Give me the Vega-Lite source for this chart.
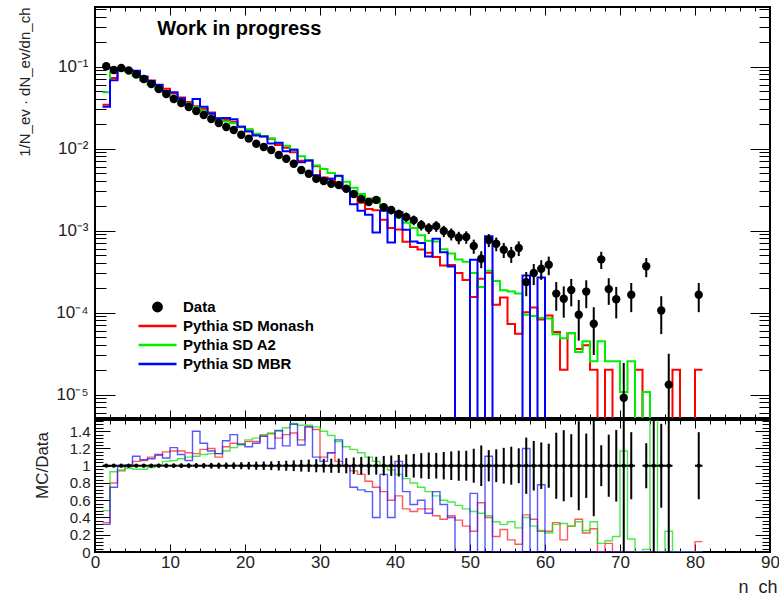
{
  "$schema": "https://vega.github.io/schema/vega-lite/v6.json",
  "background": "white",
  "padding": {"left": 15, "top": 5, "right": 2, "bottom": 2},
  "spacing": -5,
  "config": {
    "view": {"stroke": "black", "strokeWidth": 2},
    "font": "Liberation Sans",
    "axis": {"grid": false, "domain": false, "labelColor": "#222", "tickColor": "black", "tickWidth": 1, "titleFontWeight": "normal", "titleColor": "#222", "labelFlush": false, "minExtent": 0}
  },
  "datasets": {
    "obs": [
      {"a":1,"b":2,"c":1.5,"d":0.101,"lo":0.0994,"hi":0.1026,"rlo":0.984,"rhi":1.016},
      {"a":2,"b":3,"c":2.5,"d":0.0906,"lo":0.0891,"hi":0.0921,"rlo":0.983,"rhi":1.017},
      {"a":3,"b":4,"c":3.5,"d":0.0959,"lo":0.0944,"hi":0.0974,"rlo":0.984,"rhi":1.016},
      {"a":4,"b":5,"c":4.5,"d":0.0894,"lo":0.0879,"hi":0.0909,"rlo":0.983,"rhi":1.017},
      {"a":5,"b":6,"c":5.5,"d":0.0799,"lo":0.0785,"hi":0.0813,"rlo":0.982,"rhi":1.018},
      {"a":6,"b":7,"c":6.5,"d":0.0704,"lo":0.0691,"hi":0.0717,"rlo":0.981,"rhi":1.019},
      {"a":7,"b":8,"c":7.5,"d":0.0612,"lo":0.0600,"hi":0.0624,"rlo":0.980,"rhi":1.020},
      {"a":8,"b":9,"c":8.5,"d":0.0532,"lo":0.0520,"hi":0.0544,"rlo":0.978,"rhi":1.022},
      {"a":9,"b":10,"c":9.5,"d":0.0462,"lo":0.0451,"hi":0.0473,"rlo":0.977,"rhi":1.023},
      {"a":10,"b":11,"c":10.5,"d":0.0402,"lo":0.0392,"hi":0.0412,"rlo":0.975,"rhi":1.025},
      {"a":11,"b":12,"c":11.5,"d":0.0359,"lo":0.0350,"hi":0.0368,"rlo":0.974,"rhi":1.026},
      {"a":12,"b":13,"c":12.5,"d":0.0321,"lo":0.0312,"hi":0.0330,"rlo":0.972,"rhi":1.028},
      {"a":13,"b":14,"c":13.5,"d":0.0287,"lo":0.0279,"hi":0.0295,"rlo":0.971,"rhi":1.030},
      {"a":14,"b":15,"c":14.5,"d":0.0256,"lo":0.0248,"hi":0.0264,"rlo":0.969,"rhi":1.031},
      {"a":15,"b":16,"c":15.5,"d":0.0229,"lo":0.0221,"hi":0.0237,"rlo":0.967,"rhi":1.033},
      {"a":16,"b":17,"c":16.5,"d":0.0205,"lo":0.0198,"hi":0.0212,"rlo":0.965,"rhi":1.035},
      {"a":17,"b":18,"c":17.5,"d":0.0183,"lo":0.0176,"hi":0.0190,"rlo":0.963,"rhi":1.037},
      {"a":18,"b":19,"c":18.5,"d":0.0168,"lo":0.0162,"hi":0.0174,"rlo":0.961,"rhi":1.039},
      {"a":19,"b":20,"c":19.5,"d":0.0147,"lo":0.0141,"hi":0.0153,"rlo":0.959,"rhi":1.041},
      {"a":20,"b":21,"c":20.5,"d":0.0132,"lo":0.0126,"hi":0.0138,"rlo":0.957,"rhi":1.044},
      {"a":21,"b":22,"c":21.5,"d":0.01144,"lo":0.0109,"hi":0.0120,"rlo":0.953,"rhi":1.047},
      {"a":22,"b":23,"c":22.5,"d":0.01043,"lo":0.00992,"hi":0.01094,"rlo":0.951,"rhi":1.049},
      {"a":23,"b":24,"c":23.5,"d":0.00959,"lo":0.00910,"hi":0.01008,"rlo":0.949,"rhi":1.051},
      {"a":24,"b":25,"c":24.5,"d":0.00833,"lo":0.00787,"hi":0.00879,"rlo":0.945,"rhi":1.055},
      {"a":25,"b":26,"c":25.5,"d":0.00751,"lo":0.00708,"hi":0.00794,"rlo":0.942,"rhi":1.058},
      {"a":26,"b":27,"c":26.5,"d":0.00653,"lo":0.00613,"hi":0.00693,"rlo":0.938,"rhi":1.062},
      {"a":27,"b":28,"c":27.5,"d":0.00547,"lo":0.00510,"hi":0.00584,"rlo":0.932,"rhi":1.068},
      {"a":28,"b":29,"c":28.5,"d":0.00493,"lo":0.00458,"hi":0.00528,"rlo":0.929,"rhi":1.071},
      {"a":29,"b":30,"c":29.5,"d":0.00428,"lo":0.00395,"hi":0.00461,"rlo":0.924,"rhi":1.076},
      {"a":30,"b":31,"c":30.5,"d":0.00402,"lo":0.00370,"hi":0.00434,"rlo":0.921,"rhi":1.079},
      {"a":31,"b":32,"c":31.5,"d":0.00372,"lo":0.00342,"hi":0.00402,"rlo":0.918,"rhi":1.082},
      {"a":32,"b":33,"c":32.5,"d":0.00359,"lo":0.00329,"hi":0.00389,"rlo":0.917,"rhi":1.083},
      {"a":33,"b":34,"c":33.5,"d":0.00323,"lo":0.00295,"hi":0.00351,"rlo":0.912,"rhi":1.088},
      {"a":34,"b":35,"c":34.5,"d":0.00279,"lo":0.00253,"hi":0.00305,"rlo":0.905,"rhi":1.095},
      {"a":35,"b":36,"c":35.5,"d":0.00242,"lo":0.00217,"hi":0.00267,"rlo":0.898,"rhi":1.102},
      {"a":36,"b":37,"c":36.5,"d":0.00223,"lo":0.00199,"hi":0.00247,"rlo":0.894,"rhi":1.106},
      {"a":37,"b":38,"c":37.5,"d":0.00236,"lo":0.00212,"hi":0.00260,"rlo":0.897,"rhi":1.103},
      {"a":38,"b":39,"c":38.5,"d":0.00193,"lo":0.00171,"hi":0.00215,"rlo":0.886,"rhi":1.114},
      {"a":39,"b":40,"c":39.5,"d":0.00178,"lo":0.00157,"hi":0.00199,"rlo":0.882,"rhi":1.118},
      {"a":40,"b":41,"c":40.5,"d":0.00159,"lo":0.00139,"hi":0.00179,"rlo":0.875,"rhi":1.125},
      {"a":41,"b":42,"c":41.5,"d":0.00146,"lo":0.00127,"hi":0.00165,"rlo":0.869,"rhi":1.131},
      {"a":42,"b":43,"c":42.5,"d":0.00134,"lo":0.00116,"hi":0.00152,"rlo":0.863,"rhi":1.137},
      {"a":43,"b":44,"c":43.5,"d":0.00117,"lo":0.000999,"hi":0.00134,"rlo":0.854,"rhi":1.146},
      {"a":44,"b":45,"c":44.5,"d":0.00107,"lo":0.000906,"hi":0.00123,"rlo":0.847,"rhi":1.153},
      {"a":45,"b":46,"c":45.5,"d":0.00113,"lo":0.000962,"hi":0.00130,"rlo":0.851,"rhi":1.149},
      {"a":46,"b":47,"c":46.5,"d":0.000986,"lo":0.000829,"hi":0.00114,"rlo":0.841,"rhi":1.159},
      {"a":47,"b":48,"c":47.5,"d":0.000907,"lo":0.000756,"hi":0.00106,"rlo":0.834,"rhi":1.166},
      {"a":48,"b":49,"c":48.5,"d":0.000822,"lo":0.000679,"hi":0.000965,"rlo":0.826,"rhi":1.174},
      {"a":49,"b":50,"c":49.5,"d":0.000833,"lo":0.000689,"hi":0.000977,"rlo":0.827,"rhi":1.173},
      {"a":50,"b":51,"c":50.5,"d":0.000647,"lo":0.000520,"hi":0.000774,"rlo":0.803,"rhi":1.197},
      {"a":51,"b":52,"c":51.5,"d":0.000453,"lo":0.000347,"hi":0.000559,"rlo":0.765,"rhi":1.235},
      {"a":52,"b":53,"c":52.5,"d":0.000766,"lo":0.000627,"hi":0.000905,"rlo":0.819,"rhi":1.181},
      {"a":53,"b":54,"c":53.5,"d":0.00069,"lo":0.000559,"hi":0.000821,"rlo":0.810,"rhi":1.190},
      {"a":54,"b":55,"c":54.5,"d":0.000583,"lo":0.000462,"hi":0.000704,"rlo":0.793,"rhi":1.207},
      {"a":55,"b":56,"c":55.5,"d":0.000517,"lo":0.000403,"hi":0.000631,"rlo":0.780,"rhi":1.220},
      {"a":56,"b":57,"c":56.5,"d":0.000612,"lo":0.000488,"hi":0.000736,"rlo":0.798,"rhi":1.202},
      {"a":57,"b":58,"c":57.5,"d":0.000235,"lo":0.000158,"hi":0.000312,"rlo":0.674,"rhi":1.326},
      {"a":58,"b":59,"c":58.5,"d":0.000303,"lo":0.000216,"hi":0.000390,"rlo":0.713,"rhi":1.287},
      {"a":59,"b":60,"c":59.5,"d":0.000342,"lo":0.000250,"hi":0.000434,"rlo":0.730,"rhi":1.270},
      {"a":60,"b":61,"c":60.5,"d":0.000383,"lo":0.000285,"hi":0.000481,"rlo":0.745,"rhi":1.255},
      {"a":61,"b":62,"c":61.5,"d":0.00017,"lo":0.000105,"hi":0.000235,"rlo":0.617,"rhi":1.383},
      {"a":62,"b":63,"c":62.5,"d":0.000147,"lo":0.0000864,"hi":0.000208,"rlo":0.588,"rhi":1.412},
      {"a":63,"b":64,"c":63.5,"d":0.000188,"lo":0.000119,"hi":0.000257,"rlo":0.635,"rhi":1.365},
      {"a":64,"b":65,"c":64.5,"d":0.0000939,"lo":0.0000454,"hi":0.000142,"rlo":0.484,"rhi":1.516},
      {"a":65,"b":66,"c":65.5,"d":0.00018,"lo":0.000113,"hi":0.000247,"rlo":0.627,"rhi":1.373},
      {"a":66,"b":67,"c":66.5,"d":0.000073,"lo":0.0000303,"hi":0.000116,"rlo":0.415,"rhi":1.585},
      {"a":67,"b":68,"c":67.5,"d":0.000445,"lo":0.000340,"hi":0.000550,"rlo":0.763,"rhi":1.237},
      {"a":68,"b":69,"c":68.5,"d":0.000193,"lo":0.000124,"hi":0.000262,"rlo":0.640,"rhi":1.360},
      {"a":69,"b":70,"c":69.5,"d":0.000145,"lo":0.0000848,"hi":0.000205,"rlo":0.585,"rhi":1.415},
      {"a":70,"b":71,"c":70.5,"d":0.00000914,"lo":1e-9,"hi":0.0000242,"rlo":-0.65,"rhi":2.65},
      {"a":71,"b":72,"c":71.5,"d":0.000165,"lo":0.000101,"hi":0.000229,"rlo":0.611,"rhi":1.389},
      {"a":73,"b":74,"c":73.5,"d":0.000366,"lo":0.000270,"hi":0.000462,"rlo":0.739,"rhi":1.261},
      {"a":74,"b":75,"c":74.5,"d":0.0000025,"lo":1e-9,"hi":0.000004,"rlo":-2.16,"rhi":4.16},
      {"a":75,"b":76,"c":75.5,"d":0.000106,"lo":0.0000545,"hi":0.000158,"rlo":0.514,"rhi":1.486},
      {"a":76,"b":77,"c":76.5,"d":0.0000132,"lo":1e-9,"hi":0.0000314,"rlo":-0.38,"rhi":2.38},
      {"a":80,"b":81,"c":80.5,"d":0.000165,"lo":0.000101,"hi":0.000229,"rlo":0.611,"rhi":1.389}
    ],
    "mc": [
      {"n":1,"s":"M","v":0.0343,"r":0.34},{"n":2,"s":"M","v":0.0725,"r":0.80},{"n":3,"s":"M","v":0.0901,"r":0.94},{"n":4,"s":"M","v":0.0885,"r":0.99},
      {"n":5,"s":"M","v":0.0839,"r":1.05},{"n":6,"s":"M","v":0.0746,"r":1.06},{"n":7,"s":"M","v":0.0673,"r":1.10},{"n":8,"s":"M","v":0.0596,"r":1.12},
      {"n":9,"s":"M","v":0.0536,"r":1.16},{"n":10,"s":"M","v":0.0470,"r":1.17},{"n":11,"s":"M","v":0.0420,"r":1.17},{"n":12,"s":"M","v":0.0369,"r":1.15},
      {"n":13,"s":"M","v":0.0327,"r":1.14},{"n":14,"s":"M","v":0.0305,"r":1.19},{"n":15,"s":"M","v":0.0275,"r":1.20},{"n":16,"s":"M","v":0.0226,"r":1.10},
      {"n":17,"s":"M","v":0.0223,"r":1.22},{"n":18,"s":"M","v":0.0212,"r":1.26},{"n":19,"s":"M","v":0.0184,"r":1.25},{"n":20,"s":"M","v":0.0169,"r":1.28},
      {"n":21,"s":"M","v":0.01464,"r":1.28},{"n":22,"s":"M","v":0.01408,"r":1.35},{"n":23,"s":"M","v":0.01314,"r":1.37},{"n":24,"s":"M","v":0.01100,"r":1.32},
      {"n":25,"s":"M","v":0.01021,"r":1.36},{"n":26,"s":"M","v":0.00901,"r":1.38},{"n":27,"s":"M","v":0.00711,"r":1.30},{"n":28,"s":"M","v":0.00715,"r":1.45},
      {"n":29,"s":"M","v":0.00608,"r":1.42},{"n":30,"s":"M","v":0.00442,"r":1.10},{"n":31,"s":"M","v":0.00428,"r":1.15},{"n":32,"s":"M","v":0.00377,"r":1.05},
      {"n":33,"s":"M","v":0.00323,"r":1.00},{"n":34,"s":"M","v":0.00262,"r":0.94},{"n":35,"s":"M","v":0.00218,"r":0.90},{"n":36,"s":"M","v":0.00183,"r":0.82},
      {"n":37,"s":"M","v":0.00177,"r":0.75},{"n":38,"s":"M","v":0.00135,"r":0.70},{"n":39,"s":"M","v":0.00107,"r":0.60},{"n":40,"s":"M","v":0.00103,"r":0.65},
      {"n":41,"s":"M","v":0.000730,"r":0.50},{"n":42,"s":"M","v":0.00063,"r":0.47},{"n":43,"s":"M","v":0.000585,"r":0.50},{"n":44,"s":"M","v":0.000535,"r":0.50},
      {"n":45,"s":"M","v":0.000475,"r":0.42},{"n":46,"s":"M","v":0.000375,"r":0.38},{"n":47,"s":"M","v":0.000381,"r":0.42},{"n":48,"s":"M","v":0.000304,"r":0.37},
      {"n":49,"s":"M","v":0.00025,"r":0.30},{"n":50,"s":"M","v":0.000155,"r":0.24},{"n":51,"s":"M","v":0.000258,"r":0.57},{"n":52,"s":"M","v":0.000306,"r":0.40},
      {"n":53,"s":"M","v":0.000124,"r":0.18},{"n":54,"s":"M","v":0.000152,"r":0.26},{"n":55,"s":"M","v":0.0000724,"r":0.14},{"n":56,"s":"M","v":0.0000551,"r":0.09},
      {"n":57,"s":"M","v":0.000101,"r":0.43},{"n":58,"s":"M","v":0.000115,"r":0.38},{"n":59,"s":"M","v":0.0000821,"r":0.24},{"n":60,"s":"M","v":0.000092,"r":0.24},
      {"n":61,"s":"M","v":0.000058,"r":0.34},{"n":62,"s":"M","v":0.00002,"r":0.14},{"n":63,"s":"M","v":0.000056,"r":0.30},{"n":64,"s":"M","v":0.000036,"r":0.38},
      {"n":65,"s":"M","v":0.0000398,"r":0.22},{"n":66,"s":"M","v":0.00002,"r":0.27},{"n":67,"s":"M","v":1e-9,"r":0},{"n":68,"s":"M","v":0.00002,"r":0.10},
      {"n":69,"s":"M","v":1e-9,"r":0},{"n":70,"s":"M","v":1e-9,"r":0},{"n":71,"s":"M","v":1e-9,"r":0},{"n":72,"s":"M","v":0.00002,"r":0},
      {"n":73,"s":"M","v":1e-9,"r":0},{"n":74,"s":"M","v":1e-9,"r":0},{"n":75,"s":"M","v":1e-9,"r":0},{"n":76,"s":"M","v":1e-9,"r":0},
      {"n":77,"s":"M","v":0.00002,"r":0},{"n":78,"s":"M","v":1e-9,"r":0},{"n":79,"s":"M","v":1e-9,"r":0},{"n":80,"s":"M","v":0.00002,"r":0.12},
      {"n":81,"s":"M","v":0.00002,"r":0.12},

      {"n":1,"s":"A","v":0.0485,"r":0.48},{"n":2,"s":"A","v":0.0843,"r":0.93},{"n":3,"s":"A","v":0.0911,"r":0.95},{"n":4,"s":"A","v":0.0867,"r":0.97},
      {"n":5,"s":"A","v":0.0767,"r":0.96},{"n":6,"s":"A","v":0.0676,"r":0.96},{"n":7,"s":"A","v":0.0600,"r":0.98},{"n":8,"s":"A","v":0.0537,"r":1.01},
      {"n":9,"s":"A","v":0.0485,"r":1.05},{"n":10,"s":"A","v":0.0426,"r":1.06},{"n":11,"s":"A","v":0.0388,"r":1.08},{"n":12,"s":"A","v":0.0353,"r":1.10},
      {"n":13,"s":"A","v":0.0319,"r":1.11},{"n":14,"s":"A","v":0.0289,"r":1.13},{"n":15,"s":"A","v":0.0261,"r":1.14},{"n":16,"s":"A","v":0.0234,"r":1.14},
      {"n":17,"s":"A","v":0.0214,"r":1.17},{"n":18,"s":"A","v":0.0203,"r":1.21},{"n":19,"s":"A","v":0.0182,"r":1.24},{"n":20,"s":"A","v":0.0172,"r":1.30},
      {"n":21,"s":"A","v":0.01510,"r":1.32},{"n":22,"s":"A","v":0.01418,"r":1.36},{"n":23,"s":"A","v":0.01323,"r":1.38},{"n":24,"s":"A","v":0.01166,"r":1.40},
      {"n":25,"s":"A","v":0.01081,"r":1.44},{"n":26,"s":"A","v":0.00973,"r":1.49},{"n":27,"s":"A","v":0.00804,"r":1.47},{"n":28,"s":"A","v":0.00725,"r":1.47},
      {"n":29,"s":"A","v":0.00621,"r":1.45},{"n":30,"s":"A","v":0.00563,"r":1.40},{"n":31,"s":"A","v":0.00502,"r":1.35},{"n":32,"s":"A","v":0.00459,"r":1.28},
      {"n":33,"s":"A","v":0.00394,"r":1.22},{"n":34,"s":"A","v":0.00332,"r":1.19},{"n":35,"s":"A","v":0.00278,"r":1.15},{"n":36,"s":"A","v":0.00246,"r":1.10},
      {"n":37,"s":"A","v":0.00248,"r":1.05},{"n":38,"s":"A","v":0.00193,"r":1.00},{"n":39,"s":"A","v":0.00169,"r":0.95},{"n":40,"s":"A","v":0.00143,"r":0.90},
      {"n":41,"s":"A","v":0.00124,"r":0.85},{"n":42,"s":"A","v":0.00107,"r":0.80},{"n":43,"s":"A","v":0.000878,"r":0.75},{"n":44,"s":"A","v":0.000749,"r":0.70},
      {"n":45,"s":"A","v":0.000735,"r":0.65},{"n":46,"s":"A","v":0.000592,"r":0.60},{"n":47,"s":"A","v":0.000526,"r":0.58},{"n":48,"s":"A","v":0.000444,"r":0.54},
      {"n":49,"s":"A","v":0.000416,"r":0.50},{"n":50,"s":"A","v":0.000304,"r":0.47},{"n":51,"s":"A","v":0.000204,"r":0.45},{"n":52,"s":"A","v":0.000322,"r":0.42},
      {"n":53,"s":"A","v":0.000242,"r":0.35},{"n":54,"s":"A","v":0.000187,"r":0.32},{"n":55,"s":"A","v":0.000181,"r":0.35},{"n":56,"s":"A","v":0.000171,"r":0.28},
      {"n":57,"s":"A","v":0.000094,"r":0.40},{"n":58,"s":"A","v":0.0000909,"r":0.30},{"n":59,"s":"A","v":0.0000855,"r":0.25},{"n":60,"s":"A","v":0.0000843,"r":0.22},
      {"n":61,"s":"A","v":0.0000544,"r":0.32},{"n":62,"s":"A","v":0.0000485,"r":0.33},{"n":63,"s":"A","v":0.0000564,"r":0.30},{"n":64,"s":"A","v":0.0000329,"r":0.35},
      {"n":65,"s":"A","v":0.0000446,"r":0.25},{"n":66,"s":"A","v":0.0000254,"r":0.35},{"n":67,"s":"A","v":0.0000446,"r":0.10},{"n":68,"s":"A","v":0.0000254,"r":0.13},
      {"n":69,"s":"A","v":0.0000254,"r":0.18},{"n":70,"s":"A","v":0.0000107,"r":1.17},{"n":71,"s":"A","v":0.0000254,"r":0.15},{"n":72,"s":"A","v":1e-9,"r":0},
      {"n":73,"s":"A","v":0.0000107,"r":0.03},{"n":74,"s":"A","v":0.0000045,"r":1.8},{"n":75,"s":"A","v":1e-9,"r":0},{"n":76,"s":"A","v":0.0000032,"r":0.24},
      {"n":77,"s":"A","v":1e-9,"r":0},{"n":78,"s":"A","v":1e-9,"r":0},{"n":79,"s":"A","v":1e-9,"r":0},{"n":80,"s":"A","v":1e-9,"r":0},
      {"n":81,"s":"A","v":1e-9,"r":0},

      {"n":1,"s":"B","v":0.0323,"r":0.32},{"n":2,"s":"B","v":0.0680,"r":0.75},{"n":3,"s":"B","v":0.0949,"r":0.99},{"n":4,"s":"B","v":0.0903,"r":1.01},
      {"n":5,"s":"B","v":0.0887,"r":1.11},{"n":6,"s":"B","v":0.0753,"r":1.07},{"n":7,"s":"B","v":0.0661,"r":1.08},{"n":8,"s":"B","v":0.0601,"r":1.13},
      {"n":9,"s":"B","v":0.0504,"r":1.09},{"n":10,"s":"B","v":0.0486,"r":1.21},{"n":11,"s":"B","v":0.0406,"r":1.13},{"n":12,"s":"B","v":0.0340,"r":1.06},
      {"n":13,"s":"B","v":0.0402,"r":1.40},{"n":14,"s":"B","v":0.0323,"r":1.26},{"n":15,"s":"B","v":0.0268,"r":1.17},{"n":16,"s":"B","v":0.0234,"r":1.14},
      {"n":17,"s":"B","v":0.0236,"r":1.29},{"n":18,"s":"B","v":0.0228,"r":1.36},{"n":19,"s":"B","v":0.0184,"r":1.25},{"n":20,"s":"B","v":0.0161,"r":1.22},
      {"n":21,"s":"B","v":0.01441,"r":1.26},{"n":22,"s":"B","v":0.01398,"r":1.34},{"n":23,"s":"B","v":0.01151,"r":1.20},{"n":24,"s":"B","v":0.01175,"r":1.41},
      {"n":25,"s":"B","v":0.00924,"r":1.23},{"n":26,"s":"B","v":0.00966,"r":1.48},{"n":27,"s":"B","v":0.00678,"r":1.24},{"n":28,"s":"B","v":0.00715,"r":1.45},
      {"n":29,"s":"B","v":0.00471,"r":1.10},{"n":30,"s":"B","v":0.00422,"r":1.05},{"n":31,"s":"B","v":0.00428,"r":1.15},{"n":32,"s":"B","v":0.00467,"r":1.30},
      {"n":33,"s":"B","v":0.00323,"r":1.00},{"n":34,"s":"B","v":0.00209,"r":0.75},{"n":35,"s":"B","v":0.00174,"r":0.72},{"n":36,"s":"B","v":0.00156,"r":0.70},
      {"n":37,"s":"B","v":0.000944,"r":0.40},{"n":38,"s":"B","v":0.00174,"r":0.90},{"n":39,"s":"B","v":0.000712,"r":0.40},{"n":40,"s":"B","v":0.00167,"r":1.05},
      {"n":41,"s":"B","v":0.00102,"r":0.70},{"n":42,"s":"B","v":0.000737,"r":0.55},{"n":43,"s":"B","v":0.000702,"r":0.60},{"n":44,"s":"B","v":0.000482,"r":0.45},
      {"n":45,"s":"B","v":0.000791,"r":0.70},{"n":46,"s":"B","v":0.000542,"r":0.55},{"n":47,"s":"B","v":0.000363,"r":0.40},{"n":48,"s":"B","v":1e-9,"r":0},
      {"n":49,"s":"B","v":1e-9,"r":0},{"n":50,"s":"B","v":0.00044,"r":0.68},{"n":51,"s":"B","v":1e-9,"r":0},{"n":52,"s":"B","v":0.00085,"r":1.11},
      {"n":53,"s":"B","v":1e-9,"r":0},{"n":54,"s":"B","v":1e-9,"r":0},{"n":55,"s":"B","v":1e-9,"r":0},{"n":56,"s":"B","v":1e-9,"r":0},
      {"n":57,"s":"B","v":0.000282,"r":1.20},{"n":58,"s":"B","v":1e-9,"r":0},{"n":59,"s":"B","v":0.000267,"r":0.78},{"n":60,"s":"B","v":1e-9,"r":0},
      {"n":61,"s":"B","v":1e-9,"r":0},{"n":62,"s":"B","v":1e-9,"r":0},{"n":63,"s":"B","v":1e-9,"r":0},{"n":64,"s":"B","v":1e-9,"r":0},
      {"n":65,"s":"B","v":1e-9,"r":0},{"n":66,"s":"B","v":1e-9,"r":0},{"n":67,"s":"B","v":1e-9,"r":0},{"n":68,"s":"B","v":1e-9,"r":0},
      {"n":69,"s":"B","v":1e-9,"r":0},{"n":70,"s":"B","v":1e-9,"r":0},{"n":71,"s":"B","v":1e-9,"r":0},{"n":72,"s":"B","v":1e-9,"r":0},
      {"n":73,"s":"B","v":1e-9,"r":0},{"n":74,"s":"B","v":1e-9,"r":0},{"n":75,"s":"B","v":1e-9,"r":0},{"n":76,"s":"B","v":1e-9,"r":0},
      {"n":77,"s":"B","v":1e-9,"r":0},{"n":78,"s":"B","v":1e-9,"r":0},{"n":79,"s":"B","v":1e-9,"r":0},{"n":80,"s":"B","v":1e-9,"r":0},
      {"n":81,"s":"B","v":1e-9,"r":0}
    ]
  },
  "vconcat": [
    {
      "width": 675,
      "height": 411,
      "resolve": {"axis": {"x": "independent", "y": "independent"}},
      "layer": [
        {
          "data": {"name": "mc"},
          "transform": [{"filter": "datum.s === 'M'"}],
          "mark": {"type": "line", "interpolate": "step-after", "clip": true, "strokeWidth": 2},
          "encoding": {
            "x": {"field": "n", "type": "quantitative", "scale": {"domain": [0, 90], "nice": false, "zero": false},
                  "axis": {"orient": "bottom", "values": [0,10,20,30,40,50,60,70,80,90], "tickSize": -8, "labels": false, "title": null}},
            "y": {"field": "v", "type": "quantitative", "scale": {"type": "log", "domain": [0.00000517, 0.532], "nice": false},
                  "axis": {"orient": "left", "values": [0.00001, 0.0001, 0.001, 0.01, 0.1], "tickSize": -20, "labelPadding": 27, "labelFontSize": 17,
                           "labelExpr": "datum.value > 0.05 ? '10⁻¹' : datum.value > 0.005 ? '10⁻²' : datum.value > 0.0005 ? '10⁻³' : datum.value > 0.00005 ? '10⁻⁴' : '10⁻⁵'",
                           "title": "1/N_ev · dN_ev/dn_ch", "titleFontSize": 15, "titleAngle": -90, "titleX": -71, "titleY": 0, "titleAlign": "right", "titleBaseline": "middle"}},
            "color": {"datum": "Pythia SD Monash", "type": "nominal",
                      "scale": {"domain": ["Data", "Pythia SD Monash", "Pythia SD A2", "Pythia SD MBR"], "range": ["black", "#ff0000", "#00ee00", "#0000ff"]},
                      "legend": {"title": null, "orient": "none", "legendX": 42, "legendY": 292, "padding": 0,
                                 "labelFontSize": 15, "labelFontWeight": "bold", "labelColor": "black", "labelFont": "Liberation Sans",
                                 "symbolType": "stroke", "symbolSize": 1444, "symbolStrokeWidth": 2.5, "rowPadding": 3, "labelOffset": 5, "clipHeight": 16,
                                 "encode": {"symbols": {"update": {
                                   "shape": {"signal": "datum.value === 'Data' ? 'circle' : 'stroke'"},
                                   "size": {"signal": "datum.value === 'Data' ? 70 : 1444"},
                                   "fill": {"signal": "datum.value === 'Data' ? 'black' : 'transparent'"},
                                   "stroke": {"scale": "color", "field": "value"}}}}}}
          }
        },
        {
          "data": {"name": "mc"},
          "transform": [{"filter": "datum.s === 'A'"}],
          "mark": {"type": "line", "interpolate": "step-after", "clip": true, "strokeWidth": 2},
          "encoding": {
            "x": {"field": "n", "type": "quantitative", "axis": {"orient": "bottom", "values": [2,4,6,8,12,14,16,18,22,24,26,28,32,34,36,38,42,44,46,48,52,54,56,58,62,64,66,68,72,74,76,78,82,84,86,88], "tickSize": -4, "labels": false, "title": null}},
            "y": {"field": "v", "type": "quantitative", "axis": {"orient": "left", "values": [0.000006,0.000007,0.000008,0.000009,0.00002,0.00003,0.00004,0.00005,0.00006,0.00007,0.00008,0.00009,0.0002,0.0003,0.0004,0.0005,0.0006,0.0007,0.0008,0.0009,0.002,0.003,0.004,0.005,0.006,0.007,0.008,0.009,0.02,0.03,0.04,0.05,0.06,0.07,0.08,0.09,0.2,0.3,0.4,0.5], "tickSize": -11, "labels": false, "title": null}},
            "color": {"datum": "Pythia SD A2", "type": "nominal"}
          }
        },
        {
          "data": {"name": "mc"},
          "transform": [{"filter": "datum.s === 'B'"}],
          "mark": {"type": "line", "interpolate": "step-after", "clip": true, "strokeWidth": 2},
          "encoding": {
            "x": {"field": "n", "type": "quantitative", "axis": {"orient": "top", "values": [0,10,20,30,40,50,60,70,80,90], "tickSize": -8, "labels": false, "title": null}},
            "y": {"field": "v", "type": "quantitative", "axis": {"orient": "right", "values": [0.00001, 0.0001, 0.001, 0.01, 0.1], "tickSize": -20, "labels": false, "title": null}},
            "color": {"datum": "Pythia SD MBR", "type": "nominal"}
          }
        },
        {
          "data": {"name": "obs"},
          "mark": {"type": "rule", "clip": true, "color": "black", "strokeWidth": 2},
          "encoding": {
            "x": {"field": "c", "type": "quantitative", "axis": {"orient": "top", "values": [2,4,6,8,12,14,16,18,22,24,26,28,32,34,36,38,42,44,46,48,52,54,56,58,62,64,66,68,72,74,76,78,82,84,86,88], "tickSize": -4, "labels": false, "title": null}},
            "y": {"field": "lo", "type": "quantitative", "axis": {"orient": "right", "values": [0.000006,0.000007,0.000008,0.000009,0.00002,0.00003,0.00004,0.00005,0.00006,0.00007,0.00008,0.00009,0.0002,0.0003,0.0004,0.0005,0.0006,0.0007,0.0008,0.0009,0.002,0.003,0.004,0.005,0.006,0.007,0.008,0.009,0.02,0.03,0.04,0.05,0.06,0.07,0.08,0.09,0.2,0.3,0.4,0.5], "tickSize": -11, "labels": false, "title": null}},
            "y2": {"field": "hi"}
          }
        },
        {
          "data": {"name": "obs"},
          "mark": {"type": "point", "filled": true, "shape": "circle", "size": 70, "opacity": 1, "clip": true},
          "encoding": {
            "x": {"field": "c", "type": "quantitative", "axis": null},
            "y": {"field": "d", "type": "quantitative", "axis": null},
            "color": {"datum": "Data", "type": "nominal"}
          }
        },
        {
          "data": {"values": [{}]},
          "mark": {"type": "text", "text": "Work in progress", "align": "left", "baseline": "alphabetic", "fontSize": 20, "fontWeight": "bold", "font": "Liberation Sans", "color": "black"},
          "encoding": {
            "x": {"datum": 8.3, "type": "quantitative", "axis": null},
            "y": {"datum": 0.242, "type": "quantitative", "axis": null}
          }
        }
      ]
    },
    {
      "width": 675,
      "height": 132,
      "resolve": {"axis": {"x": "independent", "y": "independent"}},
      "layer": [
        {
          "data": {"name": "mc"},
          "transform": [{"filter": "datum.s === 'M'"}],
          "mark": {"type": "line", "interpolate": "step-after", "clip": true, "strokeWidth": 1.4, "color": "#ff2020", "opacity": 0.75},
          "encoding": {
            "x": {"field": "n", "type": "quantitative", "scale": {"domain": [0, 90], "nice": false, "zero": false},
                  "axis": {"orient": "bottom", "values": [0,10,20,30,40,50,60,70,80,90], "tickSize": -8, "labelPadding": 10, "labelFontSize": 17, "labelBaseline": "top",
                           "title": "n_ch", "titleFontSize": 18, "titleX": 682, "titleY": 40, "titleAlign": "right", "titleBaseline": "alphabetic"}},
            "y": {"field": "r", "type": "quantitative", "scale": {"domain": [0, 1.53], "nice": false, "zero": false},
                  "axis": {"orient": "left", "values": [0, 0.2, 0.4, 0.6, 0.8, 1, 1.2, 1.4], "format": "~g", "tickSize": -15, "labelPadding": 20, "labelFontSize": 15,
                           "title": "MC/Data", "titleFontSize": 17, "titleAngle": -90, "titleX": -53, "titleY": 45, "titleAlign": "center", "titleBaseline": "middle"}}
          }
        },
        {
          "data": {"name": "mc"},
          "transform": [{"filter": "datum.s === 'A'"}],
          "mark": {"type": "line", "interpolate": "step-after", "clip": true, "strokeWidth": 1.4, "color": "#10e010", "opacity": 0.75},
          "encoding": {
            "x": {"field": "n", "type": "quantitative", "axis": {"orient": "bottom", "values": [2,4,6,8,12,14,16,18,22,24,26,28,32,34,36,38,42,44,46,48,52,54,56,58,62,64,66,68,72,74,76,78,82,84,86,88], "tickSize": -4, "labels": false, "title": null}},
            "y": {"field": "r", "type": "quantitative", "axis": {"orient": "left", "values": [0.04,0.08,0.12,0.16,0.24,0.28,0.32,0.36,0.44,0.48,0.52,0.56,0.64,0.68,0.72,0.76,0.84,0.88,0.92,0.96,1.04,1.08,1.12,1.16,1.24,1.28,1.32,1.36,1.44,1.48,1.52], "tickSize": -8, "labels": false, "title": null}}
          }
        },
        {
          "data": {"name": "mc"},
          "transform": [{"filter": "datum.s === 'B'"}],
          "mark": {"type": "line", "interpolate": "step-after", "clip": true, "strokeWidth": 1.4, "color": "#2020ff", "opacity": 0.75},
          "encoding": {
            "x": {"field": "n", "type": "quantitative", "axis": {"orient": "top", "values": [0,10,20,30,40,50,60,70,80,90], "tickSize": -8, "labels": false, "title": null}},
            "y": {"field": "r", "type": "quantitative", "axis": {"orient": "right", "values": [0, 0.2, 0.4, 0.6, 0.8, 1, 1.2, 1.4], "tickSize": -15, "labels": false, "title": null}}
          }
        },
        {
          "data": {"name": "obs"},
          "mark": {"type": "rule", "clip": true, "color": "black", "strokeWidth": 2},
          "encoding": {
            "x": {"field": "c", "type": "quantitative", "axis": {"orient": "top", "values": [2,4,6,8,12,14,16,18,22,24,26,28,32,34,36,38,42,44,46,48,52,54,56,58,62,64,66,68,72,74,76,78,82,84,86,88], "tickSize": -4, "labels": false, "title": null}},
            "y": {"field": "rlo", "type": "quantitative", "axis": {"orient": "right", "values": [0.04,0.08,0.12,0.16,0.24,0.28,0.32,0.36,0.44,0.48,0.52,0.56,0.64,0.68,0.72,0.76,0.84,0.88,0.92,0.96,1.04,1.08,1.12,1.16,1.24,1.28,1.32,1.36,1.44,1.48,1.52], "tickSize": -8, "labels": false, "title": null}},
            "y2": {"field": "rhi"}
          }
        },
        {
          "data": {"name": "obs"},
          "mark": {"type": "rule", "clip": true, "color": "black", "strokeWidth": 2},
          "encoding": {
            "x": {"field": "a", "type": "quantitative", "axis": null},
            "x2": {"field": "b"},
            "y": {"datum": 1, "type": "quantitative", "axis": null}
          }
        },
        {
          "data": {"name": "obs"},
          "mark": {"type": "point", "filled": true, "shape": "circle", "size": 18, "color": "black", "opacity": 1, "clip": true},
          "encoding": {
            "x": {"field": "c", "type": "quantitative", "axis": null},
            "y": {"datum": 1, "type": "quantitative", "axis": null}
          }
        }
      ]
    }
  ]
}
